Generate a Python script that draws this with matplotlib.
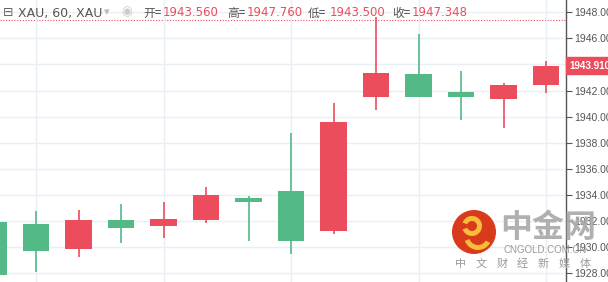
import matplotlib
matplotlib.use("Agg")
import matplotlib.pyplot as plt
from matplotlib.patches import Circle, Wedge

plt.rcParams['font.family'] = ['DejaVu Sans', 'Noto Sans CJK SC']

# candles (red = up, green = down)
opens  = [1931.95, 1931.78, 1929.86, 1932.08, 1931.65, 1932.08, 1933.77, 1934.31,
          1931.24, 1941.53, 1943.25, 1941.92, 1941.36, 1942.43]
closes = [1927.87, 1929.73, 1932.08, 1931.50, 1932.16, 1934.00, 1933.46, 1930.48,
          1939.59, 1943.33, 1941.49, 1941.53, 1942.43, 1943.91]
highs  = [1932.00, 1932.80, 1932.85, 1933.31, 1933.46, 1934.64, 1933.95, 1938.76,
          1941.03, 1947.60, 1946.31, 1943.50, 1942.56, 1944.27]
lows   = [1927.80, 1928.12, 1929.27, 1930.34, 1930.73, 1931.83, 1930.45, 1929.46,
          1930.99, 1940.51, 1941.49, 1939.75, 1939.16, 1941.84]
yticks = [1928, 1930, 1932, 1934, 1936, 1938, 1940, 1942, 1944, 1946, 1948]
last_price = 1943.91
head_labels = ["开=", "高=", "低=", "收="]
head_values = ["1943.560", "1947.760", "1943.500", "1947.348"]
slogan = ["中", "文", "财", "经", "新", "媒", "体"]

RED = '#eb4d5c'
GREEN = '#53b987'

W, H = 608, 282
fig = plt.figure(figsize=(W/100, H/100), dpi=100)
ax = fig.add_axes([0, 0, 566/W, 1])

for i in range(len(opens)):
    o, c = opens[i], closes[i]
    col = RED if c >= o else GREEN
    ax.vlines(i, lows[i], highs[i], color=col, lw=1.2, zorder=2)
    ax.bar(i, abs(c - o), bottom=min(o, c), width=0.63, color=col, zorder=3)

ax.set_xlim(0.153, 13.47)
ax.set_ylim(1927.33, 1948.94)
ax.set_xticks([1, 4, 7, 10, 13])
ax.set_yticks(yticks)
ax.set_yticklabels(["%.3f" % v for v in yticks], family='Liberation Sans')
ax.yaxis.tick_right()
ax.tick_params(axis='x', length=0, labelbottom=False)
ax.tick_params(axis='y', length=4, color='#555555', labelcolor='#555555',
               labelsize=7.5, pad=2)
ax.grid(True, color='#e9eff4', lw=1, zorder=0)
for s in ['left', 'top', 'bottom']:
    ax.spines[s].set_visible(False)
ax.spines['right'].set_color('#555555')
ax.spines['right'].set_linewidth(1)

# current price label
ax.annotate("%.3f" % last_price, xy=(1.0, last_price), xycoords=('axes fraction', 'data'),
            xytext=(2.5, 0), textcoords='offset points', va='center', ha='left',
            color='white', fontsize=7, fontweight='bold', family='Liberation Sans',
            annotation_clip=False,
            bbox=dict(boxstyle='square,pad=0.35', fc=RED, ec=RED))

# dotted line of hovered close
ax.axhline(1947.41, color=RED, lw=0.8, ls=(0, (1, 1.5)), zorder=1)

# header
def px(x, y):
    return x / W, 1 - y / H

fig.text(*px(3, 13), "⊟", color='#666666', fontsize=9, va='center')
fig.text(*px(18, 13), "XAU, 60, XAU", color='#555555', fontsize=9, va='center')
fig.text(*px(104, 12), "▾", color='#bbbbbb', fontsize=8, va='center')
fig.text(*px(121, 12), "◉", color='#cccccc', fontsize=9, va='center')
xs_lab = [143, 227, 308, 392]
xs_val = [163, 247, 330, 412]
for xl, xv, lab, val in zip(xs_lab, xs_val, head_labels, head_values):
    fig.text(*px(xl, 13), lab, color='#555555', fontsize=8.5, va='center',
             family=['Noto Sans CJK SC', 'DejaVu Sans'])
    fig.text(*px(xv, 13), val, color=RED, fontsize=8.5, va='center')

# watermark
fig.patches.append(Circle((474, H - 232), 22, transform=None, fc='#d93a1b', ec='none', zorder=10))
fig.patches.append(Wedge((472, H - 226), 10, 200, 520, width=5, transform=None,
                         fc='#f5bd3a', ec='none', zorder=11))
fig.patches.append(Wedge((478, H - 236), 14, 200, 330, width=5, transform=None,
                         fc='#f5bd3a', ec='none', zorder=11))
fig.text(*px(500, 228), "中金网", color='#a8a8a8', fontsize=23, fontweight='bold',
         va='center', family=['Noto Sans CJK SC', 'DejaVu Sans'], alpha=0.9)
fig.text(*px(503, 250), "CNGOLD.COM.CN", color='#9a9a9a', fontsize=7, va='center',
         family='Liberation Sans')
for k, ch in enumerate(slogan):
    fig.text(*px(455 + 20.7 * k, 264), ch, color='#9a9a9a', fontsize=8, va='center',
             family=['Noto Sans CJK SC', 'DejaVu Sans'])

fig.savefig("out.png", dpi=100)
